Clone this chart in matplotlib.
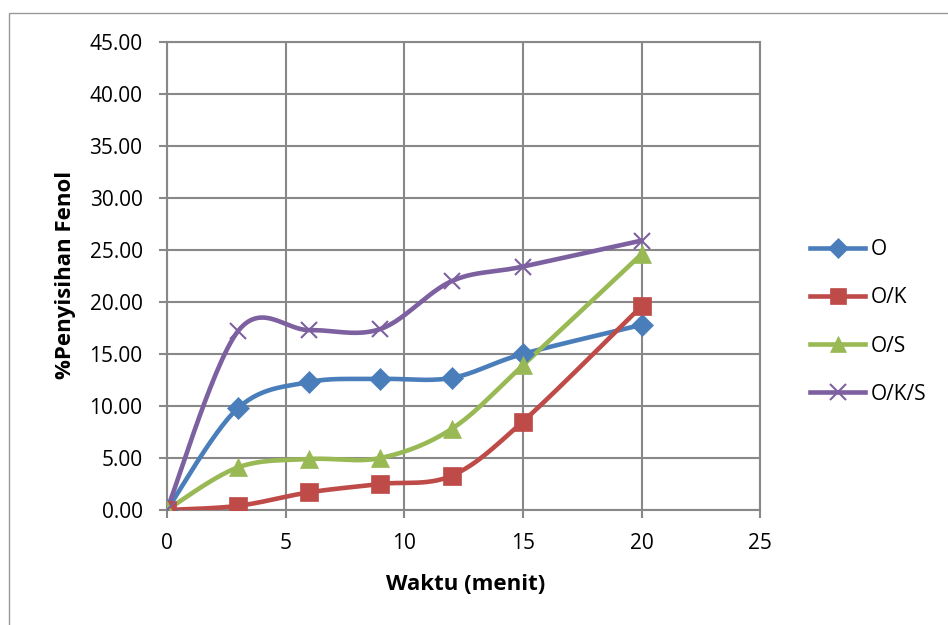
import numpy as np
import matplotlib
matplotlib.use("Agg")
import matplotlib.pyplot as plt
from matplotlib.patches import Rectangle

x = [0, 3, 6, 9, 12, 15, 20]
series_names = ["O", "O/K", "O/S", "O/K/S"]
y_O = [0.0, 9.8, 12.3, 12.6, 12.7, 15.0, 17.8]
y_OK = [0.0, 0.4, 1.7, 2.5, 3.3, 8.5, 19.6]
y_OS = [0.0, 4.1, 4.9, 5.0, 7.8, 13.9, 24.6]
y_OKS = [0.0, 17.2, 17.3, 17.4, 22.0, 23.4, 25.9]
colors = ["#4a7ebb", "#be4b48", "#98b954", "#7d60a0"]
markers = ["D", "s", "^", "x"]

plt.rcParams['font.family'] = ['Open Sans', 'DejaVu Sans']


def smooth(xs, ys, n=30):
    xs = np.asarray(xs, float); ys = np.asarray(ys, float)
    P = np.column_stack([xs, ys])
    out = [P[0]]
    for i in range(len(P) - 1):
        p0 = P[i - 1] if i > 0 else P[i]
        p1 = P[i]; p2 = P[i + 1]
        p3 = P[i + 2] if i + 2 < len(P) else P[i + 1]
        c1 = p1 + (p2 - p0) / 6.0
        c2 = p2 - (p3 - p1) / 6.0
        t = np.linspace(0, 1, n)[1:, None]
        seg = ((1 - t) ** 3) * p1 + 3 * ((1 - t) ** 2) * t * c1 + 3 * (1 - t) * t ** 2 * c2 + t ** 3 * p2
        out.extend(seg)
    out = np.array(out)
    return out[:, 0], out[:, 1]


fig = plt.figure(figsize=(9.48, 6.25), dpi=100)
fig.patches.append(Rectangle((0.009, -0.1), 1.2, 1.08, transform=fig.transFigure,
                             fill=False, edgecolor="#999999", lw=1.0))
ax = fig.add_axes([0.176, 0.184, 0.626, 0.749])

data = [y_O, y_OK, y_OS, y_OKS]
msizes = [11, 13, 13, 12]
handles = []
for name, ys, c, m, ms in zip(series_names, data, colors, markers, msizes):
    sx, sy = smooth(x, ys)
    ax.plot(sx, sy, color=c, lw=3.3, solid_capstyle='round', zorder=3)
    ax.plot(x, ys, linestyle='none', marker=m, color=c, markersize=ms,
            markeredgewidth=1.5 if m == 'x' else 0.5, markeredgecolor=c, zorder=4)
    h, = ax.plot([], [], color=c, lw=3.3, marker=m, markersize=ms - 1,
                 markeredgewidth=1.5 if m == 'x' else 0.5, label=name)
    handles.append(h)

ax.set_xlim(0, 25)
ax.set_ylim(0, 45)
ax.set_xticks(range(0, 26, 5))
ax.set_yticks(np.arange(0, 46, 5))
ax.set_yticklabels([f"{v:.2f}" for v in np.arange(0, 46, 5)])
ax.grid(True, color="#888888", lw=1.5)
ax.set_axisbelow(True)
for s in ax.spines.values():
    s.set_color("#888888"); s.set_linewidth(1.5)
ax.tick_params(axis='both', colors="#888888", length=5.5, width=1.5, labelcolor='black',
               labelsize=15)
ax.tick_params(axis='x', pad=11)
ax.tick_params(axis='y', pad=12)

fig.text(466 / 948, 1 - 585 / 625, "Waktu (menit)", fontsize=16, fontweight='bold',
         ha='center', va='center')
fig.text(66 / 948, 1 - 275 / 625, "%Penyisihan Fenol", fontsize=16, fontweight='bold',
         ha='center', va='center', rotation=90)

fig.legend(handles=handles, loc='center left', bbox_to_anchor=(810 / 948, 1 - 322 / 625),
           frameon=False, fontsize=15, handlelength=2.65, labelspacing=1.3,
           handletextpad=0.25, borderpad=0, borderaxespad=0)

fig.savefig("out.png", dpi=100)
